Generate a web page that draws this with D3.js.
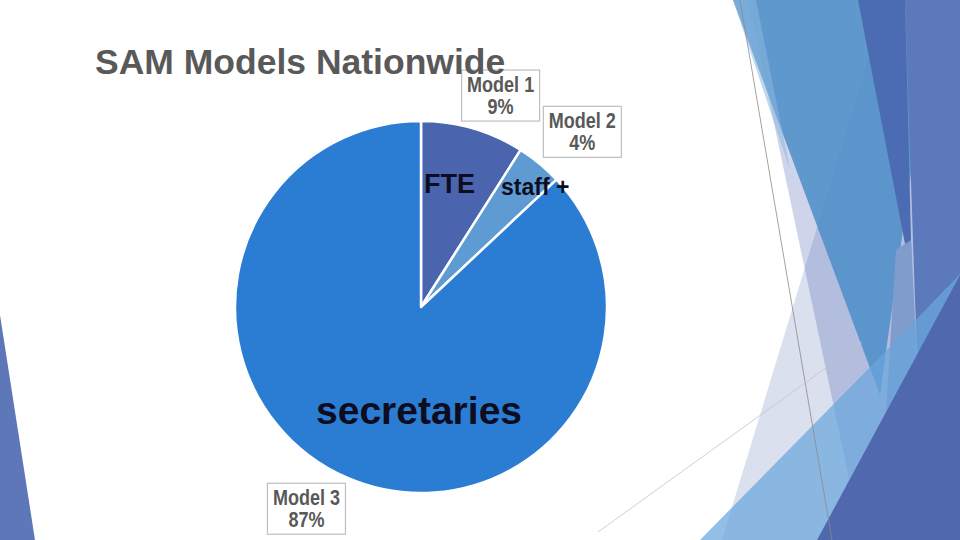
<!DOCTYPE html>
<html>
<head>
<meta charset="utf-8">
<script src="https://cdn.jsdelivr.net/npm/d3@7"></script>
<style>
  body { margin: 0; background: #fff; }
  svg { display: block; }
</style>
</head>
<body>
<svg id="slide"></svg>
<script>
const categories = ["Model 1", "Model 2", "Model 3"];
const shares = [9, 4, 87];
const sliceColors = ["#4a64ae", "#5e9bd3", "#2b7cd3"];
const title = "SAM Models Nationwide";

const width = 960;
const height = 540;

const svg = d3.select("#slide")
    .attr("width", width)
    .attr("height", height);

// facet style background shapes (theme decoration, not data)
function drawBackdrop() {
    const shapes = [
        { pts: [[748, 0], [862, 540], [960, 540], [960, 0]], fill: "#4a65b0", op: 0.27 },
        { pts: [[868, 60], [722, 540], [960, 540], [960, 60]], fill: "#4a65b0", op: 0.2 },
        { pts: [[733, 0], [880, 395], [935, 0]], fill: "#5090c8", op: 0.88 },
        { pts: [[733, 0], [756, 0], [790, 170]], fill: "#8bb8e0", op: 0.55 },
        { pts: [[858, 0], [905, 0], [912, 280]], fill: "#4b6cb2", op: 1 },
        { pts: [[905, 0], [960, 0], [960, 540], [925, 540], [915, 300]], fill: "#5b79bb", op: 1 },
        { pts: [[896, 250], [911, 240], [920, 420], [886, 410]], fill: "#7f9ccc", op: 1 },
        { pts: [[700, 540], [880, 357], [960, 274], [960, 540]], fill: "#6aa6dc", op: 0.72 },
        { pts: [[960, 275], [817, 540], [960, 540]], fill: "#4f68ae", op: 1 },
        { pts: [[0, 315], [35, 540], [0, 540]], fill: "#5d77b9", op: 1 }
    ];
    const g = svg.append("g").attr("class", "backdrop");
    g.selectAll("polygon")
        .data(shapes)
        .enter()
        .append("polygon")
        .attr("points", d => d.pts.map(p => p.join(",")).join(" "))
        .attr("fill", d => d.fill)
        .attr("fill-opacity", d => d.op);

    g.append("line")
        .attr("x1", 740).attr("y1", 0)
        .attr("x2", 832).attr("y2", 540)
        .attr("stroke", "#8a8a8a").attr("stroke-width", 0.8);
    g.append("line")
        .attr("x1", 598).attr("y1", 532)
        .attr("x2", 862).attr("y2", 342)
        .attr("stroke", "#c4c4c4").attr("stroke-width", 0.8);
}

function getPieConfig() {
    const cx = 421;
    const cy = 307;
    const radius = 186;
    const labelRadius = 228;
    // small nudges so the boxes sit where the slide has them
    const labelNudge = [[16, 7], [16, 0], [-24, -8]];
    return { cx, cy, radius, labelRadius, labelNudge };
}

function drawPie() {
    const config = getPieConfig();
    const { cx, cy, radius, labelRadius, labelNudge } = config;

    const data = categories.map((c, i) => ({ name: c, value: shares[i], color: sliceColors[i] }));

    const pie = d3.pie()
        .sort(null)
        .value(d => d.value);

    const arc = d3.arc()
        .innerRadius(0)
        .outerRadius(radius);

    const labelArc = d3.arc()
        .innerRadius(labelRadius)
        .outerRadius(labelRadius);

    const arcs = pie(data);

    const body = svg.append("g")
        .attr("transform", `translate(${cx},${cy})`);

    body.selectAll("path")
        .data(arcs)
        .enter()
        .append("path")
        .attr("d", arc)
        .attr("fill", d => d.data.color)
        .attr("stroke", "#fff")
        .attr("stroke-width", 2.5)
        .attr("stroke-linejoin", "round");

    const labels = body.selectAll(".label")
        .data(arcs)
        .enter()
        .append("g")
        .attr("class", "label")
        .attr("transform", (d, i) => {
            const c = labelArc.centroid(d);
            return `translate(${c[0] + labelNudge[i][0]},${c[1] + labelNudge[i][1]})`;
        });

    labels.append("rect")
        .attr("x", -39)
        .attr("y", -25)
        .attr("width", 78)
        .attr("height", 51)
        .attr("fill", "none")
        .attr("stroke", "#bfbfbf")
        .attr("stroke-width", 1.2);

    // the slide uses a narrow bold face, so squeeze the text a little
    const lines = labels.append("g")
        .attr("transform", "scale(0.82,1)")
        .attr("fill", "#595959")
        .style("font", "bold 22px 'Liberation Sans', Arial, sans-serif")
        .attr("text-anchor", "middle");

    lines.append("text")
        .attr("y", -3)
        .text(d => d.data.name);

    lines.append("text")
        .attr("y", 19)
        .text(d => d3.format(".0f")(d.data.value) + "%");
}

function drawTexts() {
    svg.append("text")
        .attr("x", 95)
        .attr("y", 74)
        .attr("fill", "#595959")
        .style("font", "bold 35.5px 'Liberation Sans', Arial, sans-serif")
        .text(title);

    const notes = [
        { t: "FTE", x: 424, y: 193, size: 27 },
        { t: "staff +", x: 501, y: 195, size: 23 },
        { t: "secretaries", x: 316, y: 424, size: 39 }
    ];
    svg.selectAll(".note")
        .data(notes)
        .enter()
        .append("text")
        .attr("class", "note")
        .attr("x", d => d.x)
        .attr("y", d => d.y)
        .attr("fill", "#0d0d1f")
        .style("font-family", "'Liberation Sans', Arial, sans-serif")
        .style("font-weight", "bold")
        .style("font-size", d => d.size + "px")
        .text(d => d.t);
}

drawBackdrop();
drawPie();
drawTexts();
</script>
</body>
</html>
